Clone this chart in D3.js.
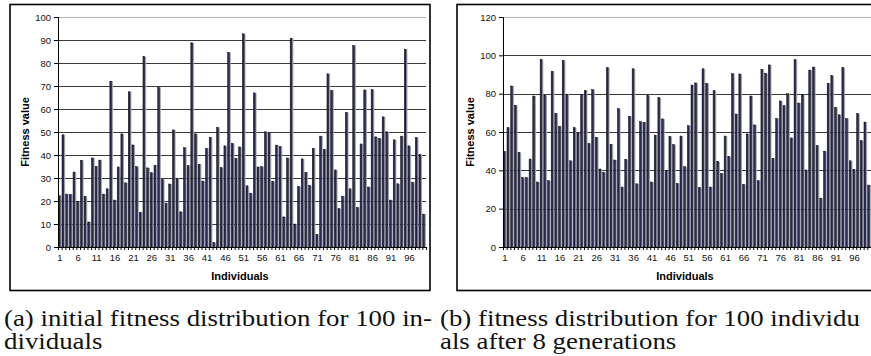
<!DOCTYPE html>
<html>
<head>
<meta charset="utf-8">
<script src="https://cdn.jsdelivr.net/npm/d3@7"></script>
<style>
  body { margin: 0; background: #fff; }
  svg { display: block; }
</style>
</head>
<body>
<div id="chart"></div>
<script>
// individuals 1..100 (category axis)
const individuals = d3.range(1, 101)

// (a) initial fitness
const fitnessInitial = [
  22.3, 48.8, 23.0, 22.9, 32.6, 19.8, 37.7, 22.1, 10.9, 38.7,
  35.1, 37.8, 23.0, 25.3, 72.1, 20.4, 34.8, 49.2, 27.9, 67.5,
  44.4, 34.9, 15.1, 82.8, 34.4, 32.3, 35.5, 69.4, 29.4, 19.1,
  27.4, 50.9, 29.8, 15.3, 43.2, 35.4, 88.8, 49.2, 36.0, 28.7,
  42.9, 47.7, 1.9, 52.0, 34.5, 44.0, 84.6, 45.0, 38.6, 43.5,
  92.7, 26.6, 23.4, 67.0, 34.8, 34.9, 50.1, 49.5, 28.5, 44.3,
  43.7, 13.1, 38.7, 90.8, 10.0, 26.3, 38.3, 32.5, 26.8, 42.9,
  5.5, 48.2, 42.5, 75.3, 68.1, 33.5, 16.7, 22.1, 58.5, 25.3,
  87.6, 17.2, 44.8, 68.3, 26.1, 68.4, 47.9, 47.2, 56.6, 50.1,
  20.4, 46.6, 27.5, 48.2, 86.0, 44.0, 28.1, 47.6, 40.3, 14.3
]

// (b) fitness after 8 generations
const fitnessGen8 = [
  49.9, 62.3, 84.0, 74.0, 49.4, 36.2, 36.2, 45.9, 78.8, 33.9,
  97.9, 79.1, 34.6, 91.7, 69.7, 63.0, 97.4, 79.7, 45.0, 62.3,
  59.5, 79.5, 81.7, 54.1, 82.1, 57.2, 40.7, 39.0, 93.6, 53.6,
  45.4, 72.2, 31.3, 45.7, 68.2, 93.0, 33.0, 65.4, 65.0, 79.0,
  33.9, 58.4, 77.9, 66.8, 39.8, 57.7, 53.4, 33.2, 57.9, 41.9,
  63.3, 84.5, 85.6, 31.1, 93.0, 85.4, 31.3, 81.6, 44.5, 38.4,
  57.9, 47.1, 90.4, 69.4, 90.3, 32.7, 59.0, 78.8, 63.7, 34.6,
  92.7, 90.6, 95.0, 46.3, 67.1, 76.2, 73.7, 80.0, 56.9, 97.7,
  75.1, 79.5, 40.2, 92.3, 93.9, 53.0, 25.5, 50.0, 85.4, 89.4,
  72.9, 69.0, 93.6, 67.0, 45.0, 40.5, 69.6, 55.5, 65.2, 32.3
]

const xTickLabels = [1, 6, 11, 16, 21, 26, 31, 36, 41, 46, 51, 56, 61, 66, 71, 76, 81, 86, 91, 96]
const yTicksInitial = [0, 10, 20, 30, 40, 50, 60, 70, 80, 90, 100]
const yTicksGen8 = [0, 20, 40, 60, 80, 100, 120]

const captionA = ['(a) initial fitness distribution for 100 in-', 'dividuals']
const captionB = ['(b) fitness distribution for 100 individu', 'als after 8 generations']

const W = 871
const H = 356
const sans = 'Liberation Sans, Arial, sans-serif'
const serif = 'Liberation Serif, Times New Roman, serif'
const captionSize = 22.5

const svg = d3.select('#chart').append('svg')
  .attr('width', W)
  .attr('height', H)

svg.append('rect').attr('width', W).attr('height', H).attr('fill', '#fff')

// the caption font in the picture is wider than Times, so stretch every line by one factor
const probe = svg.append('text')
  .attr('font-family', serif)
  .attr('font-size', captionSize)
  .text(captionA[0])
const captionStretch = 428 / probe.node().getComputedTextLength()
probe.remove()

/**
 * draws one excel-like column chart inside a black frame
 */
function drawPanel (p) {
  const g = svg.append('g')

  // outer frame
  g.append('rect')
    .attr('x', p.frame[0]).attr('y', p.frame[1])
    .attr('width', p.frame[2]).attr('height', p.frame[3])
    .attr('fill', '#fff')
    .attr('stroke', '#000')
    .attr('stroke-width', 1.6)

  const x = d3.scaleBand(individuals, [p.left, p.right]).paddingInner(0.18).paddingOuter(0.09)
  const xLin = d3.scaleLinear([0, 100], [p.left, p.right])
  const y = d3.scaleLinear([0, p.yMax], [p.bottom, p.top])

  // gridlines
  g.append('g')
    .selectAll('line')
    .data(p.yTicks.filter(d => d > 0))
    .join('line')
    .attr('x1', p.left).attr('x2', p.right)
    .attr('y1', d => Math.round(y(d)) + 0.5)
    .attr('y2', d => Math.round(y(d)) + 0.5)
    .attr('stroke', d => d === p.yMax ? '#b4b4b4' : '#3a3a3a')
    .attr('stroke-width', 1)

  // bars: dark face + grey side
  const bw = x.bandwidth()
  const bars = g.append('g')
  bars.selectAll('rect.side')
    .data(p.values)
    .join('rect')
    .classed('side', true)
    .attr('x', (d, i) => x(individuals[i]) + bw * 0.55)
    .attr('y', d => y(d))
    .attr('width', bw * 0.5)
    .attr('height', d => y(0) - y(d))
    .attr('fill', '#a2a2a6')
  bars.selectAll('rect.face')
    .data(p.values)
    .join('rect')
    .classed('face', true)
    .attr('x', (d, i) => x(individuals[i]))
    .attr('y', d => y(d))
    .attr('width', bw * 0.58)
    .attr('height', d => y(0) - y(d))
    .attr('fill', '#2a2a58')
    .attr('stroke', '#0c0c1c')
    .attr('stroke-width', 0.5)

  // y axis
  const yAxis = g.append('g')
    .attr('transform', `translate(${p.left},0)`)
    .call(d3.axisLeft(y).tickValues(p.yTicks).tickSize(4).tickPadding(3))
  yAxis.select('.domain').attr('stroke', '#000')
  yAxis.selectAll('text').attr('font-family', sans).attr('font-size', 9.5).attr('fill', '#111')

  // x axis tick marks between categories
  const xTicks = g.append('g')
    .attr('transform', `translate(0,${p.bottom})`)
    .call(d3.axisBottom(xLin).tickValues(d3.range(0, 101)).tickSize(3).tickFormat(''))
  xTicks.select('.domain').attr('stroke', '#000')

  // x labels at category centres
  const xLabels = g.append('g')
    .attr('transform', `translate(0,${p.bottom})`)
    .call(d3.axisBottom(x).tickValues(xTickLabels).tickSize(0).tickPadding(7))
  xLabels.select('.domain').remove()
  xLabels.selectAll('text').attr('font-family', sans).attr('font-size', 9.5).attr('fill', '#111')

  // axis titles
  g.append('text')
    .attr('x', (p.left + p.right) / 2 - 2)
    .attr('y', 280)
    .attr('text-anchor', 'middle')
    .attr('font-family', sans)
    .attr('font-weight', 'bold')
    .attr('font-size', 11)
    .text('Individuals')

  g.append('text')
    .attr('transform', `translate(${p.titleX},${(p.top + p.bottom) / 2}) rotate(-90)`)
    .attr('text-anchor', 'middle')
    .attr('font-family', sans)
    .attr('font-weight', 'bold')
    .attr('font-size', 11)
    .text('Fitness value')

  // caption
  g.append('g')
    .selectAll('text')
    .data(p.caption)
    .join('text')
    .attr('x', p.captionX)
    .attr('y', (d, i) => 326 + i * 23)
    .attr('font-family', serif)
    .attr('font-size', captionSize)
    .attr('fill', '#111')
    .text(d => d)
    .each(function () {
      const w = this.getComputedTextLength()
      d3.select(this)
        .attr('textLength', w * captionStretch)
        .attr('lengthAdjust', 'spacingAndGlyphs')
    })
}

drawPanel({
  frame: [10, 4.5, 420, 286],
  left: 58, right: 426, top: 17, bottom: 247,
  yMax: 100, yTicks: yTicksInitial,
  values: fitnessInitial,
  titleX: 29,
  caption: captionA,
  captionX: 4
})

drawPanel({
  frame: [457, 4.5, 440, 286],
  left: 503, right: 871, top: 17, bottom: 247,
  yMax: 120, yTicks: yTicksGen8,
  values: fitnessGen8,
  titleX: 474,
  caption: captionB,
  captionX: 440
})
</script>
</body>
</html>
